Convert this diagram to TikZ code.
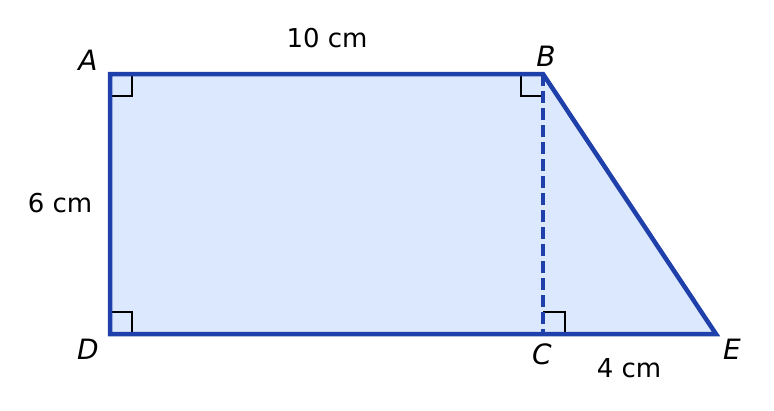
\documentclass[tikz,border=0pt]{standalone}
\usepackage{fontspec}
\setmainfont{DejaVu Sans}
\usepackage{tikz}

\definecolor{edgeblue}{RGB}{31,63,170}
\definecolor{fillblue}{RGB}{219,232,253}

\tikzset{
    outline/.style={draw=edgeblue, line width=4.5pt, line join=miter},
    height line/.style={draw=edgeblue, line width=3.3pt, dash pattern=on 12pt off 5pt},
    rightangle/.style={draw=black, line width=2.8pt},
    vertex/.style={font=\fontsize{28}{32}\selectfont\itshape, inner sep=0pt},
    measure/.style={font=\fontsize{26}{30}\selectfont, inner sep=0pt}
}

\begin{document}
\begin{tikzpicture}[x=1pt, y=-1pt]
        \useasboundingbox (0,0) rectangle (774,410);

        % Defining the corners of the figure
        \coordinate (A) at (110,74);
        \coordinate (B) at (543,74);
        \coordinate (C) at (543,334);
        \coordinate (D) at (110,334);
        \coordinate (E) at (716,334);

        % Filling the shape
        \fill[fillblue] (A) -- (B) -- (E) -- (D) -- cycle;

        % Right angle marks
        \draw[rightangle] (A) ++(0,22) -- ++(22,0) -- ++(0,-22);
        \draw[rightangle] (B) ++(-22,0) -- ++(0,22) -- ++(22,0);
        \draw[rightangle] (D) ++(0,-22) -- ++(22,0) -- ++(0,22);
        \draw[rightangle] (C) ++(0,-22) -- ++(22,0) -- ++(0,22);

        % Height and outline
        \draw[height line] (B) -- (C);
        \draw[outline] (A) -- (B) -- (E) -- (D) -- cycle;

        % Corner labels
        \node[vertex] (labelA) at (88,60) {A};
        \node[vertex] (labelB) at (546,56) {B};
        \node[vertex] (labelC) at (542,354) {C};
        \node[vertex] (labelD) at (88,349) {D};
        \node[vertex] (labelE) at (732,349) {E};

        % Lengths
        \node[measure] (top) at (327,38) {10 cm};
        \node[measure] (left) at (60,203) {6 cm};
        \node[measure] (bottom) at (629,368) {4 cm};
\end{tikzpicture}
\end{document}
